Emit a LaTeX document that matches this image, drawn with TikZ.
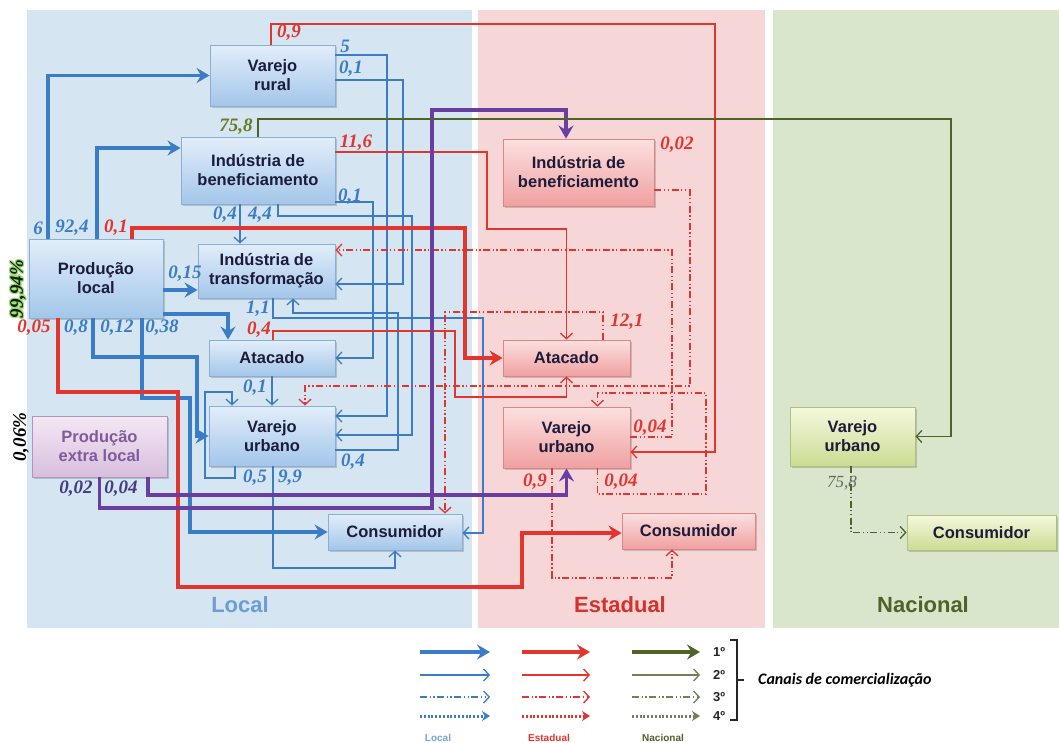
\documentclass[tikz,border=0pt]{standalone}
\usepackage{fontspec}
\setmainfont{Liberation Sans}
\newfontfamily\numfont{Liberation Serif}
\newfontfamily\calfont{Carlito}
\usetikzlibrary{arrows.meta,shadows,calc}

\definecolor{bluepanel}{HTML}{D5E5F1}
\definecolor{redpanel}{HTML}{F6D6D6}
\definecolor{greenpanel}{HTML}{D9E6CB}
\definecolor{lblue}{HTML}{3A7DC6}
\definecolor{lred}{HTML}{E1352D}
\definecolor{lgreen}{HTML}{4F6228}
\definecolor{lpurple}{HTML}{6A3EA1}
\definecolor{numpurple}{HTML}{433A86}
\definecolor{boxtext}{HTML}{1C1C3A}
\definecolor{glowgreen}{HTML}{A6D77A}
\definecolor{bluetop}{HTML}{E2EEFA}
\definecolor{bluebot}{HTML}{A3C6EA}
\definecolor{blueedge}{HTML}{8AAED6}
\definecolor{redtop}{HTML}{FCE0E0}
\definecolor{redbot}{HTML}{F0A0A0}
\definecolor{rededge}{HTML}{DB8585}
\definecolor{greentop}{HTML}{F5F8DE}
\definecolor{greenbot}{HTML}{CBDC92}
\definecolor{greenedge}{HTML}{AFC27A}
\definecolor{violettop}{HTML}{F4E8F4}
\definecolor{violetbot}{HTML}{D8BEDD}
\definecolor{violetedge}{HTML}{B295BA}
\definecolor{violettext}{HTML}{7E5C9C}

\newcommand\bxfont{\fontsize{16.5}{19}\selectfont\bfseries}
\newcommand\labfont{\numfont\bfseries\itshape\fontsize{19}{19}\selectfont}

\tikzset{
  box/.style={draw, line width=0.9pt, inner sep=0pt, align=center,
    font=\bxfont, text=boxtext,
    drop shadow={shadow xshift=1.5pt, shadow yshift=-2pt, opacity=0.3, fill=black!60}},
  lbox/.style={box, draw=blueedge, top color=bluetop, bottom color=bluebot},
  ebox/.style={box, draw=rededge, top color=redtop, bottom color=redbot},
  nbox/.style={box, draw=greenedge, top color=greentop, bottom color=greenbot},
  xbox/.style={box, draw=violetedge, top color=violettop, bottom color=violetbot, text=violettext},
  bigtip/.style={-{Stealth[length=13pt,width=15pt,inset=4.5pt]}},
  c1/.style={line width=3.2pt, bigtip},
  c2/.style={line width=1.3pt, -{Straight Barb[length=5.5pt,width=12pt]}},
  c3/.style={c2, dash pattern=on 7pt off 2.5pt on 1.3pt off 2.5pt on 1.3pt off 2.5pt},
  c4/.style={line width=3pt, dash pattern=on 2pt off 1.8pt, -{Stealth[length=8pt,width=10pt]}},
  lab/.style={font=\labfont, inner sep=0pt},
  pct/.style={font=\labfont, inner sep=0pt, rotate=90},
  zone/.style={font=\fontsize{22}{22}\selectfont\bfseries},
  small/.style={font=\fontsize{10}{10}\selectfont\bfseries}
}

\begin{document}
\begin{tikzpicture}[x=1pt,y=-1pt]
\useasboundingbox (0,0) rectangle (1059,742);
\fill[white] (0,0) rectangle (1059,742);

% market zones
\fill[bluepanel] (27,10) rectangle (472,628);
\fill[redpanel] (478,10) rectangle (765,628);
\fill[greenpanel] (773,10) rectangle (1059,628);
\node[zone, text=lblue!75] (zLocal) at (240,605) {Local};
\node[zone, text=lred!95!black] (zEst) at (620,605) {Estadual};
\node[zone, text=lgreen] (zNac) at (923,605) {Nacional};

% local agents
\node[lbox, minimum width=125pt, minimum height=61pt] (vr) at (272.5,75.5) {Varejo\\rural};
\node[lbox, minimum width=154pt, minimum height=67pt] (ib) at (258,170.5) {Indústria de\\beneficiamento};
\node[lbox, minimum width=137pt, minimum height=54pt] (it) at (266.5,271) {Indústria de\\transformação};
\node[lbox, minimum width=134pt, minimum height=79pt] (pl) at (96,278.5) {Produção\\local};
\node[lbox, minimum width=126pt, minimum height=36pt] (at) at (272,358) {Atacado};
\node[lbox, minimum width=126pt, minimum height=60pt] (vu) at (272,436) {Varejo\\urbano};
\node[xbox, minimum width=135pt, minimum height=61pt] (pe) at (99.5,446.5) {Produção\\extra local};
\node[lbox, minimum width=134pt, minimum height=36pt] (co) at (395,532) {Consumidor};

% state agents
\node[ebox, minimum width=151pt, minimum height=67pt] (ibE) at (578.5,172.5) {Indústria de\\beneficiamento};
\node[ebox, minimum width=127pt, minimum height=36pt] (atE) at (566.5,358) {Atacado};
\node[ebox, minimum width=127pt, minimum height=61pt] (vuE) at (566.5,437.5) {Varejo\\urbano};
\node[ebox, minimum width=133pt, minimum height=36pt] (coE) at (688.5,531) {Consumidor};

% national agents
\node[nbox, minimum width=125pt, minimum height=59pt] (vuN) at (852.5,436.5) {Varejo\\urbano};
\node[nbox, minimum width=149pt, minimum height=35pt] (coN) at (981.5,532.5) {Consumidor};

% local flows, first channel
\draw[c1, lblue] ([xshift=-48pt]pl.north) |- (vr.west);
\draw[c1, lblue] ([xshift=1pt]pl.north) |- ([yshift=22.5pt]ib.west);
\draw[c1, lblue] ([yshift=-11.5pt]pl.east) -- ([yshift=-19pt]it.west);
\draw[c1, lblue] ([yshift=-35.5pt]pl.east) -| ([xshift=-44pt]at.north);
\draw[c1, lblue] ([xshift=-3pt]pl.south) |- (197,357) |- (vu.west);
\draw[c1, lblue] ([xshift=46pt]pl.south) |- (190,398) |- (co.west);

% local flows, second channel
\draw[c2, lblue] ([yshift=20.5pt]vr.east) -| (387,416) -- ([yshift=20pt]vu.east);
\draw[c2, lblue] ([yshift=-4.5pt]vr.east) -| (403,284) -- ([yshift=-13pt]it.east);
\draw[c2, lblue] ([yshift=-31.5pt]ib.east) -| (373,358) -- (at.east);
\draw[c2, lblue] ([xshift=-18pt]ib.south) -- ([xshift=-26.5pt]it.north);
\draw[c2, lblue] ([xshift=20pt]ib.south) |- (412,216) |- ([yshift=1pt]vu.east);
\draw[c2, lblue] ([xshift=6.5pt]it.south) |- (483,318) |- ([yshift=-1pt]co.east);
\draw[c2, lblue] (at.south) -- (vu.north);
\draw[c2, lblue] ([xshift=-37pt]vu.south) |- (205,478) |- (232,392) -- ([xshift=-40pt]vu.north);
\draw[c2, lblue] ([xshift=1pt]vu.south) |- (395,568) -- (co.south);
\draw[c2, lblue] ([yshift=-14pt]vu.east) -| (398,313) -| ([xshift=26.5pt]it.south);

% state flows, first channel
\draw[c1, lred] ([xshift=36pt]pl.north) |- (465,228) |- (atE.west);
\draw[c1, lred] ([xshift=-38pt]pl.south) |- (178,392) |- (522,587) |- ([yshift=-2pt]coE.west);

% state flows, second channel
\draw[c2, lred] ([xshift=-1.5pt]vr.north) |- (715,24) |- ([yshift=-14.5pt]vuE.east);
\draw[c2, lred] ([yshift=18.5pt]ib.east) -| (487,229) -| (atE.north);
\draw[c2, lred] ([xshift=1pt]at.north) |- (455,331) -- (455,397) -| (atE.south);

% state flows, third channel
\draw[c3, lred] ([yshift=-17.5pt]ibE.east) -| (690,386) -| ([xshift=33pt]vu.north);
\draw[c3, lred] ([yshift=0.5pt]vuE.east) -| (672,250) -- ([yshift=21pt]it.east);
\draw[c3, lred] ([xshift=31pt]vuE.south) |- (706,494) |- (597.5,393) -- ([xshift=31pt]vuE.north);
\draw[c3, lred] ([xshift=36.5pt]atE.north) |- (445,312) -- ([xshift=50pt]co.north);
\draw[c3, lred] ([xshift=-14.5pt]vuE.south) |- (672,578) -- ([xshift=-16.5pt]coE.south);

% flows from outside production
\draw[c1, lpurple] (pe.south) |- (432,508) |- (566,110) -- ([xshift=-12.5pt]ibE.north);
\draw[c1, lpurple] ([xshift=48.5pt]pe.south) |- (566.5,495) -- (vuE.south);

% national flows
\draw[c2, lgreen] (ib.north) |- (951,119) |- (vuN.east);
\draw[c3, lgreen] ([xshift=-1.5pt]vuN.south) |- (coN.west);

% flow shares
\node[lab, text=lred] (n1) at (289,33) {0,9};
\node[lab, text=lblue] (n2) at (345,46) {5};
\node[lab, text=lblue] (n3) at (351,69) {0,1};
\node[lab, text=lgreen!85!yellow] (n4) at (236,127) {75,8};
\node[lab, text=lred] (n5) at (356,143) {11,6};
\node[lab, text=lblue] (n6) at (350,197) {0,1};
\node[lab, text=lblue] (n7) at (225,215) {0,4};
\node[lab, text=lblue] (n8) at (260,215) {4,4};
\node[lab, text=lblue] (n9) at (38,228) {6};
\node[lab, text=lblue] (n10) at (72,228) {92,4};
\node[lab, text=lred] (n11) at (116,228) {0,1};
\node[lab, text=lblue] (n12) at (185,274) {0,15};
\node[lab, text=lblue] (n13) at (258,309) {1,1};
\node[lab, text=lred] (n14) at (34,328) {0,05};
\node[lab, text=lblue] (n15) at (76,328) {0,8};
\node[lab, text=lblue] (n16) at (117,328) {0,12};
\node[lab, text=lblue] (n17) at (162,328) {0,38};
\node[lab, text=lred] (n18) at (259,330) {0,4};
\node[lab, text=lblue] (n19) at (255,388) {0,1};
\node[lab, text=lblue] (n20) at (353,462) {0,4};
\node[lab, text=lblue] (n21) at (255,478) {0,5};
\node[lab, text=lblue] (n22) at (290,478) {9,9};
\node[lab, text=numpurple] (n23) at (76,489) {0,02};
\node[lab, text=numpurple] (n24) at (121,489) {0,04};
\node[lab, text=lred] (n25) at (677,145) {0,02};
\node[lab, text=lred] (n26) at (627,322) {12,1};
\node[lab, text=lred] (n27) at (650,428) {0,04};
\node[lab, text=lred] (n28) at (535,482) {0,9};
\node[lab, text=lred] (n29) at (621,482) {0,04};
\node[inner sep=0pt, text=black!60, font=\numfont\itshape\fontsize{17}{17}\selectfont] (n30) at (842,483) {75,8};

% origin shares
\foreach \dx/\dy [count=\k] in {-1.3/0,1.3/0,0/-1.3,0/1.3,-1/-1,1/1,-1/1,1/-1}
  \node[pct, text=glowgreen] (glow\k) at ([xshift=\dx pt, yshift=\dy pt]18,289) {99,94\%};
\node[pct, text=black!85!green] (s1) at (18,289) {99,94\%};
\node[pct, text=black] (s2) at (21,437) {0,06\%};

% legend
\foreach \r/\y in {1/652,2/675,3/697,4/716}{
  \coordinate (lb\r a) at (420,\y); \coordinate (lb\r b) at (490,\y);
  \coordinate (lr\r a) at (522,\y); \coordinate (lr\r b) at (590,\y);
  \coordinate (lg\r a) at (632,\y); \coordinate (lg\r b) at (700,\y);
  \node[font=\fontsize{13}{13}\selectfont\bfseries, text=black!85, inner sep=0pt] (ord\r) at (719,\y) {\r º};
}
\draw[c1, lblue] (lb1a) -- (lb1b);
\draw[c1, lred] (lr1a) -- (lr1b);
\draw[c1, lgreen] (lg1a) -- (lg1b);
\draw[c2, lblue] (lb2a) -- (lb2b);
\draw[c2, lred] (lr2a) -- (lr2b);
\draw[c2, lgreen!80] (lg2a) -- (lg2b);
\draw[c3, lblue] (lb3a) -- (lb3b);
\draw[c3, lred] (lr3a) -- (lr3b);
\draw[c3, lgreen!80] (lg3a) -- (lg3b);
\draw[c4, lblue] (lb4a) -- (lb4b);
\draw[c4, lred] (lr4a) -- (lr4b);
\draw[c4, lgreen!80] (lg4a) -- (lg4b);
\coordinate (brT) at (730,640);
\coordinate (brB) at (730,720);
\coordinate (brM) at (744,680);
\draw[line width=1.2pt, black!85] (brT) -- ++(7,0) |- (brB);
\draw[line width=1.2pt, black!85] (737,680) -- (brM);
\node[anchor=west, font=\calfont\fontsize{16}{16}\selectfont\bfseries\itshape, inner sep=0pt] (canais) at (758,680) {Canais de comercialização};
\node[small, text=lblue!70] (kLocal) at (438,738) {Local};
\node[small, text=lred] (kEst) at (549,738) {Estadual};
\node[small, text=lgreen] (kNac) at (663,738) {Nacional};
\end{tikzpicture}
\end{document}
